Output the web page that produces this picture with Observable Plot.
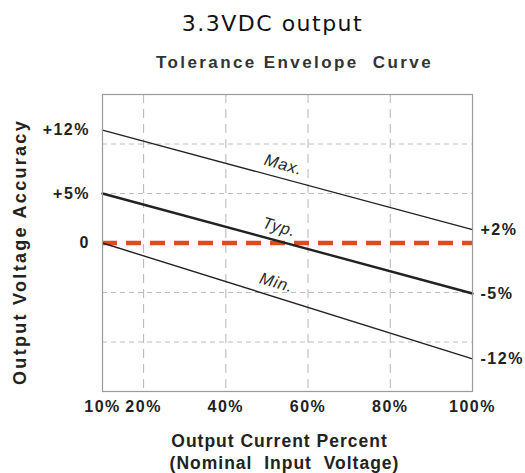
<!DOCTYPE html>
<html>
<head>
<meta charset="utf-8">
<script src="https://cdn.jsdelivr.net/npm/d3@7"></script>
<script src="https://cdn.jsdelivr.net/npm/@observablehq/plot@0.6"></script>
<style>
  html, body { margin: 0; padding: 0; background: #fff; }
  #chart svg { display: block; }
</style>
</head>
<body>
<div id="chart"></div>
<script>
// ---- data ----
const titleText = "3.3VDC output";
const subtitleText = "Tolerance Envelope  Curve";
const xTitle1 = "Output Current Percent";
const xTitle2 = "(Nominal  Input  Voltage)";
const yTitle = "Output Voltage Accuracy";

const loadPercent = [10, 100];
const maxCurve = [11.4, 1.35];
const typCurve = [5, -5.1];
const minCurve = [0, -11.7];

const xTickValues = [10, 20, 40, 60, 80, 100];
const xTickLabels = ["10%", "20%", "40%", "60%", "80%", "100%"];
const leftTickValues = [11.4, 5, 0];
const leftTickLabels = ["+12%", "+5%", "0"];
const rightTickValues = [1.35, -5.1, -11.7];
const rightTickLabels = ["+2%", "-5%", "-12%"];
const gridXValues = [20, 40, 60, 80];
const gridYValues = [10, 5, -5, -10];

const curveNames = ["Max.", "Typ.", "Min."];
const curveLabelX = [54, 53, 52.3];
const curveLabelY = [7.9, 1.6, -4.0];

// ---- table built from arrays ----
const series = [
  {name: "Max.", ys: maxCurve},
  {name: "Typ.", ys: typCurve},
  {name: "Min.", ys: minCurve}
];
const rows = series.flatMap(s => loadPercent.map((x, i) => ({series: s.name, x, y: s.ys[i]})));
const labels = curveNames.map((n, i) => ({name: n, x: curveLabelX[i], y: curveLabelY[i]}));

const font = "Liberation Sans, Arial, Helvetica, sans-serif";

const chart = Plot.plot({
  width: 525,
  height: 473,
  marginLeft: 102,
  marginRight: 53,
  marginTop: 94,
  marginBottom: 82,
  style: {fontFamily: font, background: "#fff"},
  x: {type: "linear", domain: [10, 100]},
  y: {type: "linear", domain: [-15, 15]},
  marks: [
    Plot.gridX(gridXValues, {stroke: "#b5b5b5", strokeOpacity: 1, strokeWidth: 1, strokeDasharray: "9,6"}),
    Plot.gridY(gridYValues, {stroke: "#bdbdbd", strokeOpacity: 1, strokeWidth: 1, strokeDasharray: "5,4"}),
    Plot.ruleY([0], {stroke: "#e04a1c", strokeWidth: 4.5, strokeDasharray: "15,9"}),
    Plot.line(rows.filter(d => d.series !== "Typ."), {x: "x", y: "y", z: "series", stroke: "#222", strokeWidth: 1.4}),
    Plot.line(rows.filter(d => d.series === "Typ."), {x: "x", y: "y", stroke: "#222", strokeWidth: 2.4}),
    Plot.frame({stroke: "#9a9a9a", strokeWidth: 1.2}),
    Plot.text(labels, {x: "x", y: "y", text: "name", rotate: 16, fontSize: 16.5, fontStyle: "italic", fill: "#2a2a2a"}),
    Plot.axisY(leftTickValues, {anchor: "left", tickSize: 0, tickPadding: 12.5, tickFormat: (d) => leftTickLabels[leftTickValues.indexOf(d)], fontSize: 16, fontWeight: "bold", fill: "#222", label: null}),
    Plot.axisY(rightTickValues, {anchor: "right", tickSize: 0, tickPadding: 8, tickFormat: (d) => rightTickLabels[rightTickValues.indexOf(d)], fontSize: 16, fontWeight: "bold", fill: "#222", label: null}),
    Plot.axisX(xTickValues, {anchor: "bottom", tickSize: 0, tickPadding: 9, tickFormat: (d) => xTickLabels[xTickValues.indexOf(d)], fontSize: 16, fontWeight: "bold", fill: "#222", label: null}),
    Plot.text([titleText], {frameAnchor: "top", lineAnchor: "middle", dy: -71, dx: -15, fontSize: 22, fill: "#111", fontFamily: "DejaVu Sans, sans-serif"}),
    Plot.text([subtitleText], {frameAnchor: "top", lineAnchor: "middle", dy: -32, dx: 7, fontSize: 17, fontWeight: "bold", fill: "#333"}),
    Plot.text([xTitle1], {frameAnchor: "bottom", lineAnchor: "middle", dy: 50, dx: -8, fontSize: 17.5, fontWeight: "bold", fill: "#222"}),
    Plot.text([xTitle2], {frameAnchor: "bottom", lineAnchor: "middle", dy: 72, dx: -3, fontSize: 17.5, fontWeight: "bold", fill: "#222"}),
    Plot.text([yTitle], {frameAnchor: "left", textAnchor: "middle", lineAnchor: "middle", dx: -82, dy: 9, rotate: -90, fontSize: 18, fontWeight: "bold", fill: "#222"})
  ]
});

// letter spacing to match the reference typography
const spacing = new Map([
  [titleText, "1.5px"],
  [subtitleText, "2.4px"],
  [xTitle1, "1px"],
  [xTitle2, "1px"],
  [yTitle, "2.3px"]
]);
xTickLabels.concat(leftTickLabels, rightTickLabels).forEach(t => spacing.set(t, "1.5px"));
curveNames.forEach(t => spacing.set(t, "0.8px"));
d3.select(chart).selectAll("text").each(function() {
  const s = spacing.get(this.textContent);
  if (s) { this.style.letterSpacing = s; this.style.whiteSpace = "pre"; }
});

document.getElementById("chart").appendChild(chart);
</script>
</body>
</html>
